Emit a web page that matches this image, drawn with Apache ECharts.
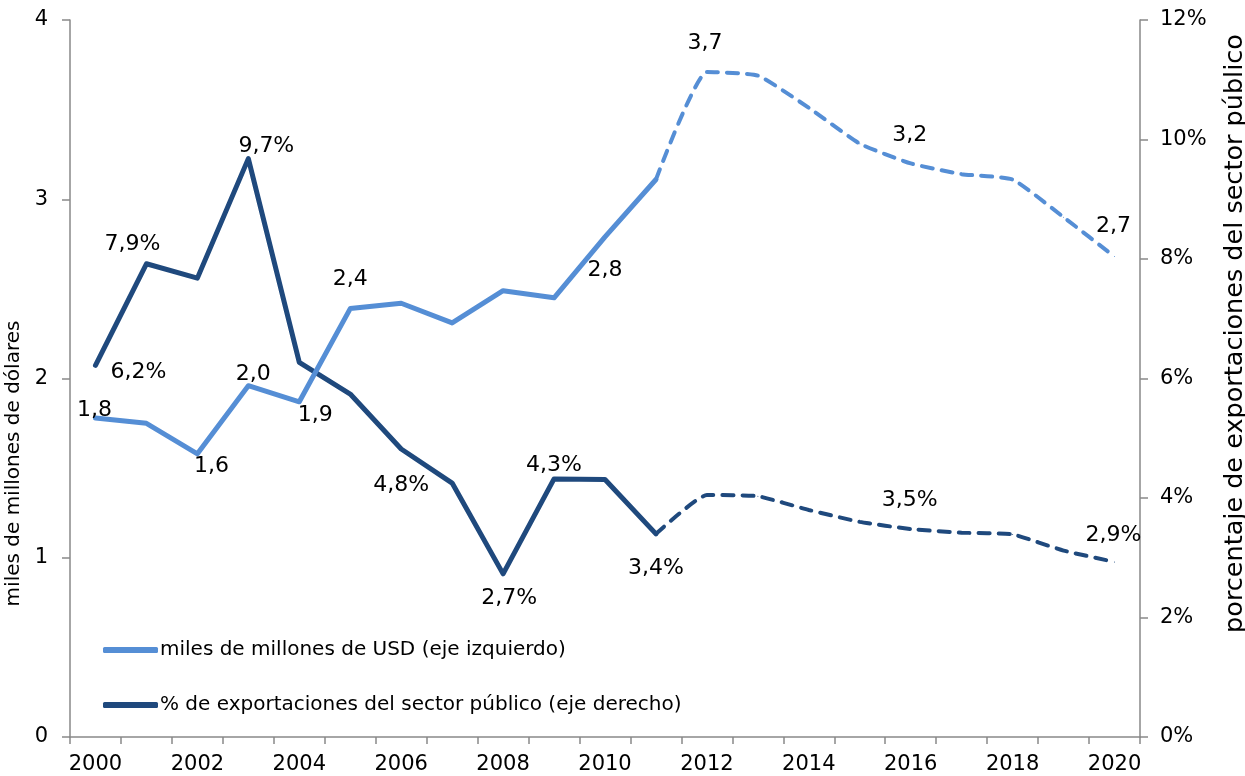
<!DOCTYPE html>
<html>
<head>
<meta charset="utf-8">
<script src="https://cdn.jsdelivr.net/npm/echarts@6/dist/echarts.min.js"></script>
<style>
html,body{margin:0;padding:0;background:#fff;}
#chart{width:1245px;height:776px;}
</style>
</head>
<body>
<div id="chart"></div>
<script>
// ---- data ----
const years = ['2000','2001','2002','2003','2004','2005','2006','2007','2008','2009','2010',
               '2011','2012','2013','2014','2015','2016','2017','2018','2019','2020'];
// miles de millones de USD (left axis)
const usdValues = [1.78,1.75,1.58,1.96,1.87,2.39,2.42,2.31,2.49,2.45,2.79,
                   3.11,3.71,3.69,3.51,3.31,3.20,3.14,3.11,2.90,2.68];
// % de exportaciones del sector público (right axis)
const pctValues = [6.22,7.92,7.68,9.68,6.27,5.74,4.82,4.25,2.73,4.32,4.31,
                   3.40,4.05,4.03,3.80,3.60,3.48,3.42,3.39,3.12,2.93];
const lastActual = 11; // 2011: solid up to here, dashed after
const leftTicks = {min:0, max:4, interval:1};
const rightTicks = {min:0, max:12, interval:2};
const usdName = 'miles de millones de USD (eje izquierdo)';
const pctName = '% de exportaciones del sector público (eje derecho)';

// label placements (index -> [dx, dy] offset of label centre from the point)
const usdLabelPos = {0:[-1,-8],2:[14,12],3:[5,-11],4:[16,13],5:[0,-29],10:[0,33],12:[-2,-29],16:[-1,-28],20:[-1,-30]};
const pctLabelPos = {0:[43,7],1:[-14,-19],3:[18,-12],6:[0,36],8:[6,24],9:[0,-14],11:[0,34],16:[-1,-29],20:[-1,-27]};

const FONT = 'DejaVu Sans';
const LIGHT = '#558ED5';
const DARK = '#1F497D';

function fmt(v, pct){ return (Math.round(v*10)/10).toFixed(1).replace('.',',') + (pct?'%':''); }

function buildData(values, from, to, labels, pct){
  return values.map((v,i)=>{
    if(i<from || i>to) return null;
    const item = {value:v};
    if(labels[i]){
      item.label = {show:true, position:'inside', offset:labels[i],
        formatter: fmt(v,pct), color:'#000', fontFamily:FONT, fontSize:22};
    }
    return item;
  });
}
function pick(labels, lo, hi){ const o={}; for(const k in labels){ const i=+k; if(i>=lo && i<=hi) o[i]=labels[k]; } return o; }

const chart = echarts.init(document.getElementById('chart'), null, {renderer:'canvas'});
const axisLineStyle = {color:'#898989', width:1.5};
const option = {
  animation:false,
  textStyle:{fontFamily:FONT},
  grid:{left:70, right:105, top:20, bottom:39, containLabel:false, outerBoundsMode:'none'},
  legend:{
    orient:'vertical', left:98, top:634, itemGap:33, itemWidth:55, itemHeight:6,
    icon:'roundRect',
    data:[usdName, pctName],
    textStyle:{fontFamily:FONT, fontSize:20, color:'#000', lineHeight:22, padding:[0,0,0,-3]}
  },
  xAxis:{
    type:'category', data:years, boundaryGap:true,
    axisLine:{lineStyle:axisLineStyle},
    axisTick:{show:true, interval:0, length:7, lineStyle:axisLineStyle},
    axisLabel:{interval:1, margin:17, color:'#000', fontFamily:FONT, fontSize:21}
  },
  yAxis:[{
    type:'value', position:'left', min:leftTicks.min, max:leftTicks.max, interval:leftTicks.interval,
    name:'miles de millones de dólares', nameLocation:'middle', nameGap:43, nameRotate:90,
    nameTextStyle:{fontFamily:FONT, fontSize:20, color:'#000', padding:[0,170,0,0]},
    axisLine:{show:true, lineStyle:axisLineStyle},
    axisTick:{show:true, length:8, lineStyle:axisLineStyle},
    splitLine:{show:false},
    axisLabel:{margin:22, color:'#000', fontFamily:FONT, fontSize:21}
  },{
    type:'value', position:'right', min:rightTicks.min, max:rightTicks.max, interval:rightTicks.interval,
    name:'porcentaje de exportaciones del sector público', nameLocation:'middle', nameGap:82, nameRotate:90,
    nameTextStyle:{fontFamily:FONT, fontSize:25.5, color:'#000', padding:[0,0,0,90]},
    axisLine:{show:true, lineStyle:axisLineStyle},
    axisTick:{show:true, length:8, lineStyle:axisLineStyle},
    splitLine:{show:false},
    axisLabel:{margin:20, color:'#000', fontFamily:FONT, fontSize:21, formatter:'{value}%'}
  }],
  series:[
    {name:usdName, type:'line', yAxisIndex:0, symbol:'circle', symbolSize:1, z:3,
     itemStyle:{color:LIGHT}, lineStyle:{color:LIGHT, width:5, join:'round', cap:'round'},
     data:buildData(usdValues, 0, lastActual, pick(usdLabelPos,0,lastActual), false)},
    {name:usdName, type:'line', yAxisIndex:0, symbol:'circle', symbolSize:1, smooth:0.15, z:3,
     itemStyle:{color:LIGHT}, lineStyle:{color:LIGHT, width:4, type:[11,9], cap:'round'},
     data:buildData(usdValues, lastActual, years.length-1, pick(usdLabelPos,lastActual+1,99), false)},
    {name:pctName, type:'line', yAxisIndex:1, symbol:'circle', symbolSize:1, z:2,
     itemStyle:{color:DARK}, lineStyle:{color:DARK, width:5, join:'round', cap:'round'},
     data:buildData(pctValues, 0, lastActual, pick(pctLabelPos,0,lastActual), true)},
    {name:pctName, type:'line', yAxisIndex:1, symbol:'circle', symbolSize:1, smooth:0.15, z:2,
     itemStyle:{color:DARK}, lineStyle:{color:DARK, width:4, type:[11,9], cap:'round'},
     data:buildData(pctValues, lastActual, years.length-1, pick(pctLabelPos,lastActual+1,99), true)}
  ]
};
chart.setOption(option);
</script>
</body>
</html>
